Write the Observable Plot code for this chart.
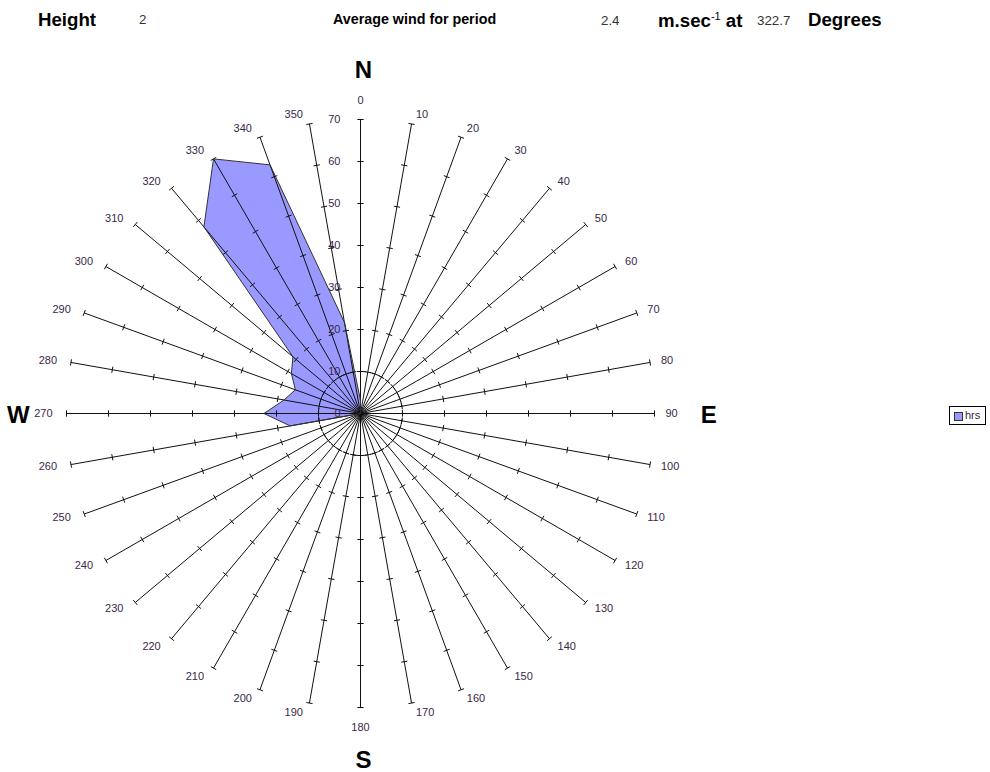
<!DOCTYPE html>
<html><head><meta charset="utf-8">
<script src="https://cdn.jsdelivr.net/npm/d3@7"></script>
<script src="https://cdn.jsdelivr.net/npm/@observablehq/plot@0.6"></script>
<style>
body{margin:0;background:#fff;font-family:"Liberation Sans",Arial,sans-serif;}
#wrap{position:relative;width:990px;height:772px;overflow:hidden;}
#chart{position:absolute;left:0;top:0;}
.h{position:absolute;white-space:nowrap;line-height:1;color:#000;}
.b{font-weight:bold;}
.n{color:#333;font-size:13.33px;}
#legend{position:absolute;left:949px;top:406px;width:35px;height:17px;border:1px solid #000;background:#fff;font-size:11px;}
#legend .sw{position:absolute;left:4px;top:5px;width:7px;height:7px;background:#9999ff;border:1px solid #333;}
#legend .t{position:absolute;left:15px;top:3px;line-height:1;color:#3a2848;}
</style></head><body>
<div id="wrap">
<div id="chart"></div>
<div class="h b" style="left:38px;top:11px;font-size:18.67px">Height</div>
<div class="h n" style="left:139px;top:13px">2</div>
<div class="h b" style="left:333px;top:11.5px;font-size:14.3px">Average wind for period</div>
<div class="h n" style="left:601px;top:14px">2.4</div>
<div class="h b" style="left:658px;top:11px;font-size:18.67px">m.sec<sup style="font-size:11px;vertical-align:7px;font-weight:normal">-1</sup> at</div>
<div class="h n" style="left:757px;top:14px">322.7</div>
<div class="h b" style="left:808px;top:11px;font-size:18.67px">Degrees</div>
<div id="legend"><div class="sw"></div><div class="t">hrs</div></div>
</div>
<script>
// Directions (degrees) and hours per direction
const directions = [0,10,20,30,40,50,60,70,80,90,100,110,120,130,140,150,160,170,180,190,200,210,220,230,240,250,260,270,280,290,300,310,320,330,340,350];
const hours = [3,0,0,0,0,0,0,0,0,0,0,0,0,0,0,0,0,0,0,0,0,0,0,0,0,0,17,23,18.5,16.5,19,21,58,70,63,22];
const radialTicks = [0,10,20,30,40,50,60,70];
const compassLetters = ["N","E","S","W"];
const compassAngles = [0,90,180,270];
const calmRadius = 10;
const maxR = 70;

const k = 4.2; // px per unit
const rad = a => a * Math.PI / 180;
const px = (a, r) => r * Math.sin(rad(a));
const py = (a, r) => r * Math.cos(rad(a));

const rows = directions.map((d, i) => ({dir: d, v: hours[i]}));
const tickRows = directions.flatMap(d => radialTicks.filter(t => t > 0).map(t => ({dir: d, t})));
const half = 0.75;
const ring = d3.range(0, 360, 3).map(a => ({a}));
const labelColor = "#3a2848";

// category label placement (Excel-like: anchored beside spoke end)
const rightDirs = directions.filter(a => a > 0 && a < 180);
const leftDirs = directions.filter(a => a > 180);
const vertDirs = directions.filter(a => a === 0 || a === 180);
const labY = a => py(a, maxR) + 9.5 * Math.cos(rad(a)) / k;

const plot = Plot.plot({
  width: 990, height: 772, margin: 0,
  x: {domain: [-360 / k, 630 / k], axis: null},
  y: {domain: [-359 / k, 413 / k], axis: null},
  style: {fontFamily: "'Liberation Sans', Arial, sans-serif", background: "#fff"},
  marks: [
    Plot.line(rows, {x: d => px(d.dir, d.v), y: d => py(d.dir, d.v), curve: "linear-closed", fill: "#9999ff", stroke: "none"}),
    Plot.link(directions, {x1: () => 0, y1: () => 0, x2: a => px(a, maxR), y2: a => py(a, maxR), stroke: "#111", strokeWidth: 1}),
    Plot.link(tickRows, {
      x1: d => px(d.dir, d.t) + half * Math.cos(rad(d.dir)),
      y1: d => py(d.dir, d.t) - half * Math.sin(rad(d.dir)),
      x2: d => px(d.dir, d.t) - half * Math.cos(rad(d.dir)),
      y2: d => py(d.dir, d.t) + half * Math.sin(rad(d.dir)),
      stroke: "#111", strokeWidth: 1
    }),
    Plot.line(ring, {x: d => px(d.a, calmRadius), y: d => py(d.a, calmRadius), curve: "linear-closed", stroke: "#111", strokeWidth: 1, strokeDasharray: "5,4", fill: "none"}),
    Plot.line(rows, {x: d => px(d.dir, d.v), y: d => py(d.dir, d.v), curve: "linear-closed", fill: "none", stroke: "#333", strokeWidth: 1}),
    Plot.text(rightDirs, {x: a => px(a, maxR) + (3 + 8 * Math.abs(Math.sin(rad(a)))) / k, y: labY, text: a => String(a), textAnchor: "start", fontSize: 11, fill: labelColor}),
    Plot.text(leftDirs, {x: a => px(a, maxR) - (5 + 9 * Math.abs(Math.sin(rad(a)))) / k, y: labY, text: a => String(a), textAnchor: "end", fontSize: 11, fill: labelColor}),
    Plot.text(vertDirs, {x: a => px(a, maxR), y: a => py(a, maxR) + 19.5 * Math.cos(rad(a)) / k, text: a => String(a), fontSize: 11, fill: labelColor}),
    Plot.text(radialTicks, {x: () => 0, y: v => v, text: v => String(v), textAnchor: "end", dx: -20, fontSize: 11, fill: labelColor}),
    Plot.text(compassLetters, {x: (c, i) => px(compassAngles[i], 82.2), y: (c, i) => py(compassAngles[i], 82.2), text: c => c, dx: 3, dy: 2, fontSize: 24, fontWeight: "bold", fill: "#000"})
  ]
});
document.getElementById("chart").appendChild(plot);
</script>
</body></html>
